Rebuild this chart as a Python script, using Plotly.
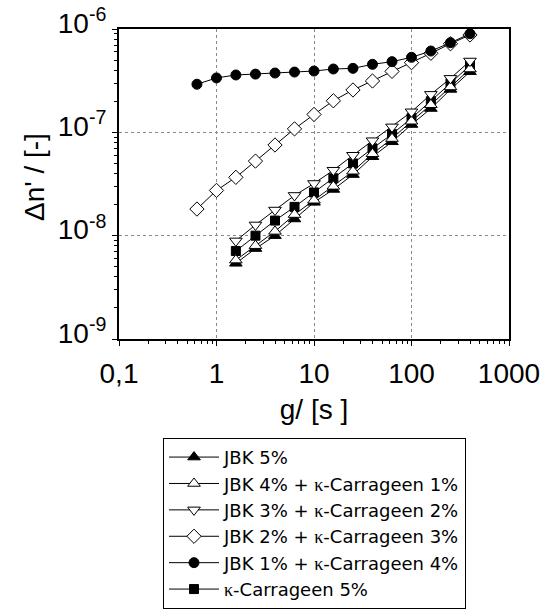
import plotly.graph_objects as go

# shear rate values (x)
gamma = [0.63, 1.0, 1.58, 2.51, 3.98, 6.31, 10.0, 15.8, 25.1, 39.8, 63.1, 100, 158, 251, 398]
gamma_low = gamma[2:]

jbk5 = [5.4e-9, 7.5e-9, 1.0e-8, 1.45e-8, 2.1e-8, 2.8e-8, 3.9e-8, 5.8e-8, 8.1e-8, 1.19e-7, 1.7e-7, 2.6e-7, 3.86e-7]
jbk4_k1 = [5.8e-9, 8.0e-9, 1.1e-8, 1.6e-8, 2.2e-8, 3.0e-8, 4.2e-8, 6.2e-8, 8.7e-8, 1.28e-7, 1.85e-7, 2.75e-7, 4.1e-7]
jbk3_k2 = [8.9e-9, 1.27e-8, 1.77e-8, 2.45e-8, 3.2e-8, 4.3e-8, 6.0e-8, 8.3e-8, 1.13e-7, 1.58e-7, 2.33e-7, 3.33e-7, 4.9e-7]
jbk2_k3 = [1.81e-8, 2.74e-8, 3.67e-8, 5.27e-8, 7.54e-8, 1.08e-7, 1.49e-7, 2.02e-7, 2.57e-7, 3.14e-7, 3.89e-7, 4.72e-7, 5.82e-7, 7.2e-7, 8.75e-7]
jbk1_k4 = [2.92e-7, 3.36e-7, 3.59e-7, 3.66e-7, 3.75e-7, 3.83e-7, 3.92e-7, 4.10e-7, 4.16e-7, 4.55e-7, 4.83e-7, 5.32e-7, 6.12e-7, 7.37e-7, 9.0e-7]
kappa5 = [7.1e-9, 1.0e-8, 1.4e-8, 1.9e-8, 2.62e-8, 3.59e-8, 5.0e-8, 7.0e-8, 9.6e-8, 1.37e-7, 2.0e-7, 2.98e-7, 4.45e-7]

KAPPA = '<span style="font-family:Liberation Serif">κ</span>'
names = ["JBK 5%",
         "JBK 4% + " + KAPPA + "-Carrageen 1%",
         "JBK 3% + " + KAPPA + "-Carrageen 2%",
         "JBK 2% + " + KAPPA + "-Carrageen 3%",
         "JBK 1% + " + KAPPA + "-Carrageen 4%",
         KAPPA + "-Carrageen 5%"]

x_title = "g/ [s ]"
y_title = "Δn' / [-]"
x_tickvals = [0.1, 1, 10, 100, 1000]
x_ticktext = ["0,1", "1", "10", "100", "1000"]
y_tickvals = [1e-9, 1e-8, 1e-7, 1e-6]
y_ticktext = ["10<sup>-9</sup>", "10<sup>-8</sup>", "10<sup>-7</sup>", "10<sup>-6</sup>"]

series = [
    # (x, y, name, symbol, fill, size, legendrank)
    (gamma_low, jbk5, names[0], "triangle-up", "black", 11, 1),
    (gamma_low, kappa5, names[5], "square", "black", 9, 6),
    (gamma_low, jbk4_k1, names[1], "triangle-up", "white", 11, 2),
    (gamma_low, jbk3_k2, names[2], "triangle-down", "white", 11, 3),
    (gamma, jbk2_k3, names[3], "diamond", "white", 11, 4),
    (gamma, jbk1_k4, names[4], "circle", "black", 10, 5),
]

fig = go.Figure()
for x, y, nm, sym, fill, sz, rank in series:
    fig.add_trace(go.Scatter(
        x=x, y=y, name=nm, mode="lines+markers", legendrank=rank,
        line=dict(color="black", width=1),
        marker=dict(symbol=sym, size=sz, color=fill, line=dict(color="black", width=1)),
    ))

def minor_vals(lo, hi):
    out = []
    for e in range(lo, hi):
        for d in range(2, 10):
            out.append(d * 10.0 ** e)
    return out

font_main = "Liberation Sans, Arial, sans-serif"

fig.update_layout(
    width=547, height=609,
    margin=dict(l=119, r=38, t=29, b=270, autoexpand=False),
    paper_bgcolor="white", plot_bgcolor="white",
    font=dict(family=font_main, color="black"),
    showlegend=True,
    legend=dict(
        xref="container", yref="container",
        x=0.298, y=0.281, xanchor="left", yanchor="top",
        bordercolor="black", borderwidth=1, bgcolor="white",
        font=dict(size=18, family="DejaVu Sans, sans-serif", color="black"),
        itemwidth=50, traceorder="normal",
    ),
    annotations=[dict(
        text=y_title, xref="paper", yref="paper", x=-0.215, y=0.523,
        xanchor="center", yanchor="middle", textangle=-90, showarrow=False,
        font=dict(size=28, family=font_main, color="black"),
    )],
)

fig.update_xaxes(
    type="log", range=[-1, 3],
    tickmode="array", tickvals=x_tickvals, ticktext=x_ticktext,
    tickfont=dict(size=28), ticks="outside", ticklen=5, tickwidth=1, tickcolor="black",
    ticklabelstandoff=3,
    showline=True, linecolor="black", linewidth=2, mirror=True,
    showgrid=True, gridcolor="#888888", gridwidth=1, griddash="dot",
    minor=dict(tickmode="array", tickvals=minor_vals(-1, 3), ticks="outside",
               ticklen=3, tickwidth=1, tickcolor="black", showgrid=False),
    zeroline=False,
    title=dict(text=x_title, font=dict(size=28), standoff=12),
)
fig.update_yaxes(
    type="log", range=[-9, -6],
    tickmode="array", tickvals=y_tickvals, ticktext=y_ticktext,
    tickfont=dict(size=28), ticks="outside", ticklen=5, tickwidth=1, tickcolor="black",
    ticklabelshift=-6,
    showline=True, linecolor="black", linewidth=2, mirror=True,
    showgrid=True, gridcolor="#888888", gridwidth=1, griddash="dot",
    minor=dict(tickmode="array", tickvals=minor_vals(-9, -6), ticks="outside",
               ticklen=3, tickwidth=1, tickcolor="black", showgrid=False),
    zeroline=False,
)

fig.write_html("out.html")
